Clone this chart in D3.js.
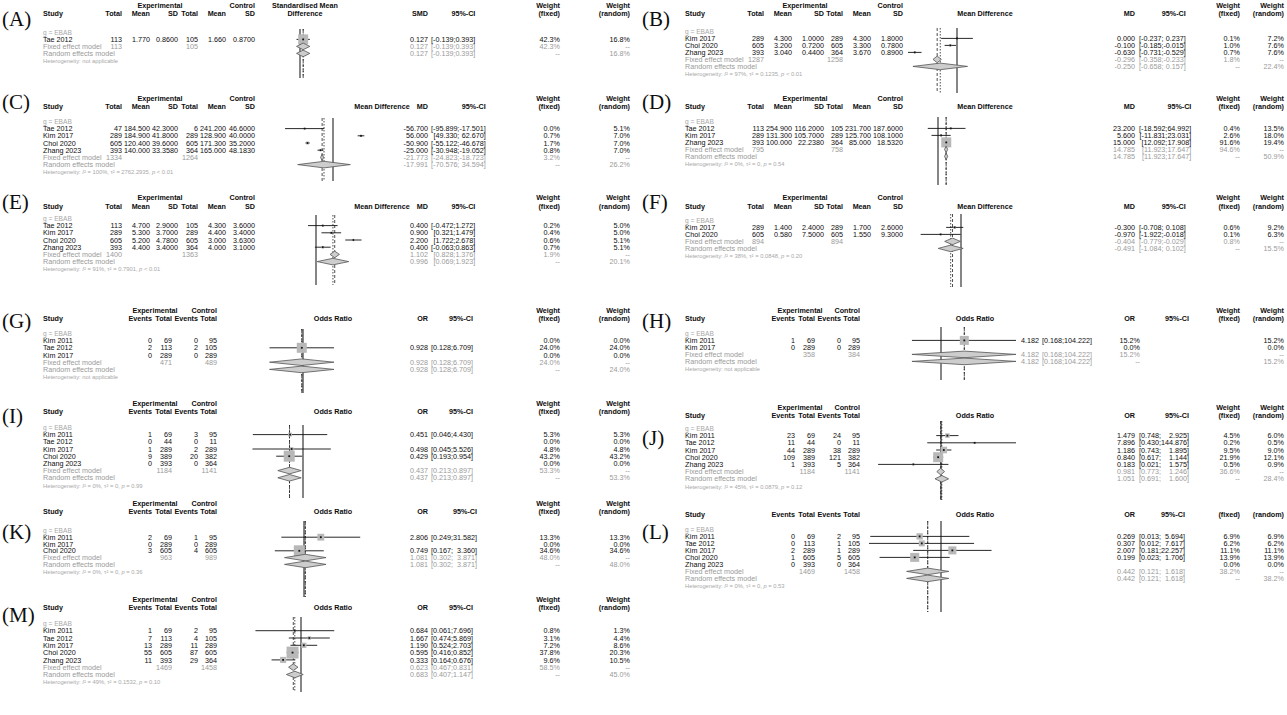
<!DOCTYPE html>
<html>
<head>
<meta charset="utf-8">
<script src="https://cdn.jsdelivr.net/npm/d3@7"></script>
<style>
  body { margin: 0; background: #fff; }
  svg text { font-family: "Liberation Sans Narrow", "Arial Narrow", "Liberation Sans", Arial, sans-serif; }
</style>
</head>
<body>
<svg id="fig" width="1287" height="715"></svg>
<script>
// ===================== data =====================
// continuous outcomes: exp/ctl = [total, mean, SD]; eff = [estimate, lower, upper]; wt = [fixed %, random %]
// binary outcomes: exp/ctl = [events, total]; eff = [OR, lower, upper] (null when not estimable)
// pooled rows: [estimate, lower, upper, weight %]

// (A) standardised mean difference
const studyA = ["Tae 2012"];
const expA = [[113, 1.770, 0.8600]];
const ctlA = [[105, 1.660, 0.8700]];
const effA = [[0.127, -0.139, 0.393]];
const wtA = [[42.3, 16.8]];
const fixedA = [0.127, -0.139, 0.393, 42.3];
const randomA = [0.127, -0.139, 0.393, 16.8];
const totalA = [113, 105];
const hetA = null;

// (B) mean difference
const studyB = ["Kim 2017", "Choi 2020", "Zhang 2023"];
const expB = [[289, 4.300, 1.0000], [605, 3.200, 0.7200], [393, 3.040, 0.4400]];
const ctlB = [[289, 4.300, 1.8000], [605, 3.300, 0.7800], [364, 3.670, 0.8900]];
const effB = [[0.000, -0.237, 0.237], [-0.100, -0.185, -0.015], [-0.630, -0.731, -0.529]];
const wtB = [[0.1, 7.2], [1.0, 7.6], [0.7, 7.6]];
const fixedB = [-0.296, -0.358, -0.233, 1.8];
const randomB = [-0.250, -0.658, 0.157, 22.4];
const totalB = [1287, 1258];
const hetB = ["97%", "0.1235", "< 0.01"];

// (C) mean difference
const studyC = ["Tae 2012", "Kim 2017", "Choi 2020", "Zhang 2023"];
const expC = [[47, 184.500, 42.3000], [289, 184.900, 41.8000], [605, 120.400, 39.6000], [393, 140.000, 33.3580]];
const ctlC = [[6, 241.200, 46.6000], [289, 128.900, 40.0000], [605, 171.300, 35.2000], [364, 165.000, 48.1830]];
const effC = [[-56.700, -95.899, -17.501], [56.000, 49.330, 62.670], [-50.900, -55.122, -46.678], [-25.000, -30.948, -19.052]];
const wtC = [[0.0, 5.1], [0.7, 7.0], [1.7, 7.0], [0.8, 7.0]];
const fixedC = [-21.773, -24.823, -18.723, 3.2];
const randomC = [-17.991, -70.576, 34.594, 26.2];
const totalC = [1334, 1264];
const hetC = ["100%", "2762.2935", "< 0.01"];

// (D) mean difference
const studyD = ["Tae 2012", "Kim 2017", "Zhang 2023"];
const expD = [[113, 254.900, 116.2000], [289, 131.300, 105.7000], [393, 100.000, 22.2380]];
const ctlD = [[105, 231.700, 187.6000], [289, 125.700, 108.1000], [364, 85.000, 18.5320]];
const effD = [[23.200, -18.592, 64.992], [5.600, -11.831, 23.031], [15.000, 12.092, 17.908]];
const wtD = [[0.4, 13.5], [2.6, 18.0], [91.6, 19.4]];
const fixedD = [14.785, 11.923, 17.647, 94.6];
const randomD = [14.785, 11.923, 17.647, 50.9];
const totalD = [795, 758];
const hetD = ["0%", "0", "= 0.54"];

// (E) mean difference
const studyE = ["Tae 2012", "Kim 2017", "Choi 2020", "Zhang 2023"];
const expE = [[113, 4.700, 2.9000], [289, 5.300, 3.7000], [605, 5.200, 4.7800], [393, 4.400, 3.4000]];
const ctlE = [[105, 4.300, 3.6000], [289, 4.400, 3.4000], [605, 3.000, 3.6300], [364, 4.000, 3.1000]];
const effE = [[0.400, -0.472, 1.272], [0.900, 0.321, 1.479], [2.200, 1.722, 2.678], [0.400, -0.063, 0.863]];
const wtE = [[0.2, 5.0], [0.4, 5.0], [0.6, 5.1], [0.7, 5.1]];
const fixedE = [1.102, 0.828, 1.376, 1.9];
const randomE = [0.996, 0.069, 1.923, 20.1];
const totalE = [1400, 1363];
const hetE = ["91%", "0.7901", "< 0.01"];

// (F) mean difference
const studyF = ["Kim 2017", "Choi 2020"];
const expF = [[289, 1.400, 2.4000], [605, 0.580, 7.5000]];
const ctlF = [[289, 1.700, 2.6000], [605, 1.550, 9.3000]];
const effF = [[-0.300, -0.708, 0.108], [-0.970, -1.922, -0.018]];
const wtF = [[0.6, 9.2], [0.1, 6.3]];
const fixedF = [-0.404, -0.779, -0.029, 0.8];
const randomF = [-0.491, -1.084, 0.102, 15.5];
const totalF = [894, 894];
const hetF = ["38%", "0.0848", "= 0.20"];

// (G) odds ratio
const studyG = ["Kim 2011", "Tae 2012", "Kim 2017"];
const expG = [[0, 69], [2, 113], [0, 289]];
const ctlG = [[0, 95], [2, 105], [0, 289]];
const effG = [null, [0.928, 0.128, 6.709], null];
const wtG = [[0.0, 0.0], [24.0, 24.0], [0.0, 0.0]];
const fixedG = [0.928, 0.128, 6.709, 24.0];
const randomG = [0.928, 0.128, 6.709, 24.0];
const totalG = [471, 489];
const hetG = null;

// (H) odds ratio
const studyH = ["Kim 2011", "Kim 2017"];
const expH = [[1, 69], [0, 289]];
const ctlH = [[0, 95], [0, 289]];
const effH = [[4.182, 0.168, 104.222], null];
const wtH = [[15.2, 15.2], [0.0, 0.0]];
const fixedH = [4.182, 0.168, 104.222, 15.2];
const randomH = [4.182, 0.168, 104.222, 15.2];
const totalH = [358, 384];
const hetH = null;

// (I) odds ratio
const studyI = ["Kim 2011", "Tae 2012", "Kim 2017", "Choi 2020", "Zhang 2023"];
const expI = [[1, 69], [0, 44], [1, 289], [9, 389], [0, 393]];
const ctlI = [[3, 95], [0, 11], [2, 289], [20, 382], [0, 364]];
const effI = [[0.451, 0.046, 4.430], null, [0.498, 0.045, 5.526], [0.429, 0.193, 0.954], null];
const wtI = [[5.3, 5.3], [0.0, 0.0], [4.8, 4.8], [43.2, 43.2], [0.0, 0.0]];
const fixedI = [0.437, 0.213, 0.897, 53.3];
const randomI = [0.437, 0.213, 0.897, 53.3];
const totalI = [1184, 1141];
const hetI = ["0%", "0", "= 0.99"];

// (J) odds ratio
const studyJ = ["Kim 2011", "Tae 2012", "Kim 2017", "Choi 2020", "Zhang 2023"];
const expJ = [[23, 69], [11, 44], [44, 289], [109, 389], [1, 393]];
const ctlJ = [[24, 95], [0, 11], [38, 289], [121, 382], [5, 364]];
const effJ = [[1.479, 0.748, 2.925], [7.896, 0.430, 144.876], [1.186, 0.743, 1.895], [0.840, 0.617, 1.144], [0.183, 0.021, 1.575]];
const wtJ = [[4.5, 6.0], [0.2, 0.5], [9.5, 9.0], [21.9, 12.1], [0.5, 0.9]];
const fixedJ = [0.981, 0.773, 1.246, 36.6];
const randomJ = [1.051, 0.691, 1.600, 28.4];
const totalJ = [1184, 1141];
const hetJ = ["45%", "0.0879", "= 0.12"];

// (K) odds ratio
const studyK = ["Kim 2011", "Kim 2017", "Choi 2020"];
const expK = [[2, 69], [0, 289], [3, 605]];
const ctlK = [[1, 95], [0, 289], [4, 605]];
const effK = [[2.806, 0.249, 31.582], null, [0.749, 0.167, 3.360]];
const wtK = [[13.3, 13.3], [0.0, 0.0], [34.6, 34.6]];
const fixedK = [1.081, 0.302, 3.871, 48.0];
const randomK = [1.081, 0.302, 3.871, 48.0];
const totalK = [963, 989];
const hetK = ["0%", "0", "= 0.36"];

// (L) odds ratio
const studyL = ["Kim 2011", "Tae 2012", "Kim 2017", "Choi 2020", "Zhang 2023"];
const expL = [[0, 69], [0, 113], [2, 289], [1, 605], [0, 393]];
const ctlL = [[2, 95], [1, 105], [1, 289], [5, 605], [0, 364]];
const effL = [[0.269, 0.013, 5.694], [0.307, 0.012, 7.617], [2.007, 0.181, 22.257], [0.199, 0.023, 1.706], null];
const wtL = [[6.9, 6.9], [6.2, 6.2], [11.1, 11.1], [13.9, 13.9], [0.0, 0.0]];
const fixedL = [0.442, 0.121, 1.618, 38.2];
const randomL = [0.442, 0.121, 1.618, 38.2];
const totalL = [1469, 1458];
const hetL = ["0%", "0", "= 0.53"];

// (M) odds ratio
const studyM = ["Kim 2011", "Tae 2012", "Kim 2017", "Choi 2020", "Zhang 2023"];
const expM = [[1, 69], [7, 113], [13, 289], [55, 605], [11, 393]];
const ctlM = [[2, 95], [4, 105], [11, 289], [87, 605], [29, 364]];
const effM = [[0.684, 0.061, 7.696], [1.667, 0.474, 5.869], [1.190, 0.524, 2.703], [0.595, 0.416, 0.852], [0.333, 0.164, 0.676]];
const wtM = [[0.8, 1.3], [3.1, 4.4], [7.2, 8.6], [37.8, 20.3], [9.6, 10.5]];
const fixedM = [0.623, 0.467, 0.831, 58.5];
const randomM = [0.683, 0.407, 1.147, 45.0];
const totalM = [1469, 1458];
const hetM = ["49%", "0.1532", "= 0.10"];

// ===================== layout =====================
const SERIF = '"Liberation Serif", "Times New Roman", serif';
const RS = 7.2;   // row text size
const HS = 7.2;   // header text size
const INK = "#0d0d0d", GREY = "#9a9a9a", GREY2 = "#a8a8a8";

const LEFT = { label: 2, study: 43, cont: [122, 150, 178, 198, 226, 255], bin: [152, 172, 198, 217],
  expCont: 160, expBin: 155, estR: 428, ciL: 431, wfR: 560, wrR: 630 };
const RIGHT = { label: 642, study: 685, cont: [764, 792, 824, 843, 871, 903], bin: [795, 815, 841, 860],
  expCont: 805, expBin: 800, estR: 1135, ciL: 1139, wfR: 1240, wrR: 1284 };

const panels = [
  { id: "A", side: "L", type: "cont", measure: "SMD", fHead: ["Standardised Mean", "Difference"], headX: 305,
    log: false, dom: [-2, 2], rng: [250, 350], nul: 0, sq: 10,
    labelY: 26, h1: 8, h2: 16, row: 35, step: 7, fy: [29, 78],
    study: studyA, exp: expA, ctl: ctlA, eff: effA, wt: wtA, fixed: fixedA, random: randomA, total: totalA, het: hetA },
  { id: "B", side: "R", type: "cont", measure: "MD", fHead: "Mean Difference", headX: 985,
    log: false, dom: [-1, 1], rng: [890, 1024], nul: 0, sq: 2,
    labelY: 26, h1: 8, h2: 16, row: 34, step: 7, fy: [28, 93],
    study: studyB, exp: expB, ctl: ctlB, eff: effB, wt: wtB, fixed: fixedB, random: randomB, total: totalB, het: hetB },
  { id: "C", side: "L", type: "cont", measure: "MD", fHead: "Mean Difference", headX: 382,
    log: false, dom: [-100, 100], rng: [283, 383], nul: 0, sq: 3,
    labelY: 109, h1: 101, h2: 109, row: 124, step: 7.2, fy: [118, 181],
    study: studyC, exp: expC, ctl: ctlC, eff: effC, wt: wtC, fixed: fixedC, random: randomC, total: totalC, het: hetC },
  { id: "D", side: "R", type: "cont", measure: "MD", fHead: "Mean Difference", headX: 985,
    log: false, dom: [-50, 50], rng: [910.5, 965.5], nul: 0, sq: 10,
    labelY: 109, h1: 101, h2: 109, row: 124, step: 7, fy: [117, 185],
    study: studyD, exp: expD, ctl: ctlD, eff: effD, wt: wtD, fixed: fixedD, random: randomD, total: totalD, het: hetD },
  { id: "E", side: "L", type: "cont", measure: "MD", fHead: "Mean Difference", headX: 382,
    log: false, dom: [-2, 3], rng: [282, 367], nul: 0, sq: 2.5,
    labelY: 209, h1: 200, h2: 209, row: 221, step: 7.2, fy: [215, 285],
    study: studyE, exp: expE, ctl: ctlE, eff: effE, wt: wtE, fixed: fixedE, random: randomE, total: totalE, het: hetE },
  { id: "F", side: "R", type: "cont", measure: "MD", fHead: "Mean Difference", headX: 985,
    log: false, dom: [-2, 2], rng: [919, 1003], nul: 0, sq: 2.5,
    labelY: 209, h1: 200, h2: 209, row: 223, step: 7, fy: [214, 287],
    study: studyF, exp: expF, ctl: ctlF, eff: effF, wt: wtF, fixed: fixedF, random: randomF, total: totalF, het: hetF },
  { id: "G", side: "L", type: "bin", measure: "OR", fHead: "Odds Ratio", headX: 333,
    log: true, dom: [0.01, 100], rng: [228, 378], nul: 1, sq: 10,
    labelY: 328, h1: 313, h2: 321, row: 336, step: 7.2, fy: [329, 393],
    study: studyG, exp: expG, ctl: ctlG, eff: effG, wt: wtG, fixed: fixedG, random: randomG, total: totalG, het: hetG },
  { id: "H", side: "R", type: "bin", measure: "OR", fHead: "Odds Ratio", headX: 975,
    log: true, dom: [0.01, 100], rng: [866, 1016], nul: 1, sq: 9,
    vals: { estR: 1039, ciL: 1042, wfR: 1140, wrR: 1284 },
    labelY: 328, h1: 313, h2: 321, row: 336, step: 7, fy: [327, 380],
    study: studyH, exp: expH, ctl: ctlH, eff: effH, wt: wtH, fixed: fixedH, random: randomH, total: totalH, het: hetH },
  { id: "I", side: "L", type: "bin", measure: "OR", fHead: "Odds Ratio", headX: 333,
    log: true, dom: [0.01, 100], rng: [228, 378], nul: 1, sq: 11,
    labelY: 423, h1: 406, h2: 414, row: 430, step: 7.2, fy: [425, 498],
    study: studyI, exp: expI, ctl: ctlI, eff: effI, wt: wtI, fixed: fixedI, random: randomI, total: totalI, het: hetI },
  { id: "J", side: "R", type: "bin", measure: "OR", fHead: "Odds Ratio", headX: 975,
    log: true, dom: [0.01, 100], rng: [866, 1016], nul: 1, sq: 10,
    labelY: 445, h1: 410, h2: 418, row: 431, step: 7.2, fy: [421, 500],
    study: studyJ, exp: expJ, ctl: ctlJ, eff: effJ, wt: wtJ, fixed: fixedJ, random: randomJ, total: totalJ, het: hetJ },
  { id: "K", side: "L", type: "bin", measure: "OR", fHead: "Odds Ratio", headX: 333,
    log: true, dom: [0.01, 100], rng: [229, 379], nul: 1, sq: 11,
    labelY: 539, h1: 506, h2: 514, row: 533, step: 6.8, fy: [521, 597],
    study: studyK, exp: expK, ctl: ctlK, eff: effK, wt: wtK, fixed: fixedK, random: randomK, total: totalK, het: hetK },
  { id: "L", side: "R", type: "bin", measure: "OR", fHead: "Odds Ratio", headX: 975,
    log: true, dom: [0.01, 100], rng: [866, 1016], nul: 1, sq: 9,
    labelY: 539, h1: null, h2: 517, row: 532, step: 7, fy: [521, 612],
    study: studyL, exp: expL, ctl: ctlL, eff: effL, wt: wtL, fixed: fixedL, random: randomL, total: totalL, het: hetL },
  { id: "M", side: "L", type: "bin", measure: "OR", fHead: "Odds Ratio", headX: 333,
    log: true, dom: [0.01, 100], rng: [226, 376], nul: 1, sq: 12,
    labelY: 622, h1: 602, h2: 610, row: 626, step: 7.3, fy: [617, 692],
    study: studyM, exp: expM, ctl: ctlM, eff: effM, wt: wtM, fixed: fixedM, random: randomM, total: totalM, het: hetM }
];

// ===================== drawing =====================
const svg = d3.select("#fig");
const f3 = v => v.toFixed(3);
const f4 = v => v.toFixed(4);
const pct = v => v.toFixed(1) + "%";

const probe = svg.append("text").attr("font-size", RS).attr("visibility", "hidden");
const tw = s => { probe.text(s); return probe.node().getComputedTextLength(); };

function txt(g, x, y, s, o = {}) {
  return g.append("text")
    .attr("x", x).attr("y", y)
    .attr("font-size", o.size || RS)
    .attr("font-weight", o.bold ? "bold" : null)
    .attr("fill", o.fill || INK)
    .attr("text-anchor", o.anchor || "start")
    .text(s);
}

function drawPanel(p) {
  const C = p.side === "L" ? LEFT : RIGHT;
  const V = Object.assign({ estR: C.estR, ciL: C.ciL, wfR: C.wfR, wrR: C.wrR }, p.vals || {});
  const g = svg.append("g").attr("class", "panel-" + p.id);
  const n = p.study.length;
  const rowY = i => p.row + i * p.step;
  const colR = p.type === "cont" ? C.cont : C.bin;

  // confidence-interval sub-columns: "[lower;" right-aligned, then "upper]" right-aligned
  const ciRows = p.eff.filter(Boolean).concat([p.fixed, p.random]);
  const ciCols = L => {
    const loW = d3.max(ciRows, r => tw("[" + f3(r[1]) + ";"));
    const hiW = d3.max(ciRows, r => tw(f3(r[2]) + "]"));
    const m = L + loW;
    return { L, m, R: m + tw(" ") + hiW };
  };
  const ciV = ciCols(V.ciL);
  const ciH = ciCols(C.ciL);
  const ciText = (y, r, fill) => {
    txt(g, ciV.m, y, "[" + f3(r[1]) + ";", { fill, anchor: "end" });
    txt(g, ciV.R, y, f3(r[2]) + "]", { fill, anchor: "end" });
  };

  // panel letter
  g.append("text").attr("x", C.label).attr("y", p.labelY)
    .attr("font-size", 21).attr("fill", INK)
    .style("font-family", SERIF)
    .text("(" + p.id + ")");

  // column headers
  const H = (x, y, s, anchor) => txt(g, x, y, s, { bold: true, anchor, size: HS });
  if (p.h1 != null) {
    H(p.type === "cont" ? C.expCont : C.expBin, p.h1, "Experimental", "middle");
    H(colR[colR.length - 1], p.h1, "Control", "end");
    H(C.wfR, p.h1, "Weight", "end");
    H(C.wrR, p.h1, "Weight", "end");
  }
  H(C.study, p.h2, "Study", "start");
  const hdrs = p.type === "cont" ? ["Total", "Mean", "SD", "Total", "Mean", "SD"] : ["Events", "Total", "Events", "Total"];
  hdrs.forEach((h, i) => H(colR[i], p.h2, h, "end"));
  if (Array.isArray(p.fHead)) {
    H(p.headX, p.h1, p.fHead[0], "middle");
    H(p.headX, p.h2, p.fHead[1], "middle");
  } else {
    H(p.headX, p.h2, p.fHead, "middle");
  }
  H(C.estR, p.h2, p.measure, "end");
  H(ciH.R, p.h2, "95%-CI", "end");
  H(C.wfR, p.h2, "(fixed)", "end");
  H(C.wrR, p.h2, "(random)", "end");

  // subgroup label
  txt(g, C.study, rowY(0), "g = EBAB", { fill: GREY2, size: 6.6 });

  // study rows
  p.study.forEach((s, i) => {
    const y = rowY(i + 1);
    txt(g, C.study, y, s);
    const cells = p.type === "cont"
      ? [p.exp[i][0], f3(p.exp[i][1]), f4(p.exp[i][2]), p.ctl[i][0], f3(p.ctl[i][1]), f4(p.ctl[i][2])]
      : [p.exp[i][0], p.exp[i][1], p.ctl[i][0], p.ctl[i][1]];
    cells.forEach((v, j) => txt(g, colR[j], y, String(v), { anchor: "end" }));
    if (p.eff[i]) {
      txt(g, V.estR, y, f3(p.eff[i][0]), { anchor: "end" });
      ciText(y, p.eff[i], INK);
    }
    txt(g, V.wfR, y, pct(p.wt[i][0]), { anchor: "end" });
    txt(g, V.wrR, y, pct(p.wt[i][1]), { anchor: "end" });
  });

  // pooled rows
  const yF = rowY(n + 1), yR = rowY(n + 2), yH = rowY(n + 3);
  const totIdx = p.type === "cont" ? [0, 3] : [1, 3];
  txt(g, C.study, yF, "Fixed effect model", { fill: GREY });
  txt(g, colR[totIdx[0]], yF, String(p.total[0]), { fill: GREY, anchor: "end" });
  txt(g, colR[totIdx[1]], yF, String(p.total[1]), { fill: GREY, anchor: "end" });
  txt(g, V.estR, yF, f3(p.fixed[0]), { fill: GREY, anchor: "end" });
  ciText(yF, p.fixed, GREY);
  txt(g, V.wfR, yF, pct(p.fixed[3]), { fill: GREY, anchor: "end" });
  txt(g, V.wrR, yF, "--", { fill: GREY, anchor: "end" });

  txt(g, C.study, yR, "Random effects model", { fill: GREY });
  txt(g, V.estR, yR, f3(p.random[0]), { fill: GREY, anchor: "end" });
  ciText(yR, p.random, GREY);
  txt(g, V.wfR, yR, "--", { fill: GREY, anchor: "end" });
  txt(g, V.wrR, yR, pct(p.random[3]), { fill: GREY, anchor: "end" });

  // heterogeneity
  const ht = txt(g, C.study, yH, "", { fill: GREY2, size: 5.8 });
  if (p.het == null) {
    ht.text("Heterogeneity: not applicable");
  } else {
    ht.append("tspan").text("Heterogeneity: ");
    ht.append("tspan").attr("font-style", "italic").text("I");
    ht.append("tspan").text("\u00B2 = " + p.het[0] + ", ");
    ht.append("tspan").text("\u03C4\u00B2 = " + p.het[1] + ", ");
    ht.append("tspan").attr("font-style", "italic").text("p");
    ht.append("tspan").text(" " + p.het[2]);
  }

  // ---- forest ----
  const x = (p.log ? d3.scaleLog() : d3.scaleLinear()).domain(p.dom).range(p.rng).clamp(true);
  const fg = g.append("g");
  const vline = (v, dash) => fg.append("line")
    .attr("x1", x(v)).attr("x2", x(v)).attr("y1", p.fy[0]).attr("y2", p.fy[1])
    .attr("stroke", "#222").attr("stroke-width", dash ? 0.8 : 1.1)
    .attr("stroke-dasharray", dash);
  vline(p.nul, null);
  vline(p.fixed[0], "3,2");
  vline(p.random[0], "1.5,1.5");

  const maxW = d3.max(p.wt, w => w[0]);
  p.eff.forEach((e, i) => {
    if (!e) return;
    const yc = rowY(i + 1) - 2.6;
    fg.append("line").attr("x1", x(e[1])).attr("x2", x(e[2])).attr("y1", yc).attr("y2", yc)
      .attr("stroke", "#111").attr("stroke-width", 0.9);
    const s = p.sq * Math.sqrt(p.wt[i][0] / maxW);
    fg.append("rect").attr("x", x(e[0]) - s / 2).attr("y", yc - s / 2).attr("width", s).attr("height", s)
      .attr("fill", "#b8b8b8");
    fg.append("rect").attr("x", x(e[0]) - 0.9).attr("y", yc - 0.9).attr("width", 1.8).attr("height", 1.8)
      .attr("fill", "#111");
  });

  const diamond = (r, y) => {
    const yc = y - 2.6, h = 3.3;
    fg.append("polygon")
      .attr("points", [[x(r[1]), yc], [x(r[0]), yc - h], [x(r[2]), yc], [x(r[0]), yc + h]].map(d => d.join(",")).join(" "))
      .attr("fill", "#cdcdcd").attr("stroke", "#555").attr("stroke-width", 0.8);
  };
  diamond(p.fixed, yF);
  diamond(p.random, yR);
}

panels.forEach(drawPanel);
probe.remove();
</script>
</body>
</html>
